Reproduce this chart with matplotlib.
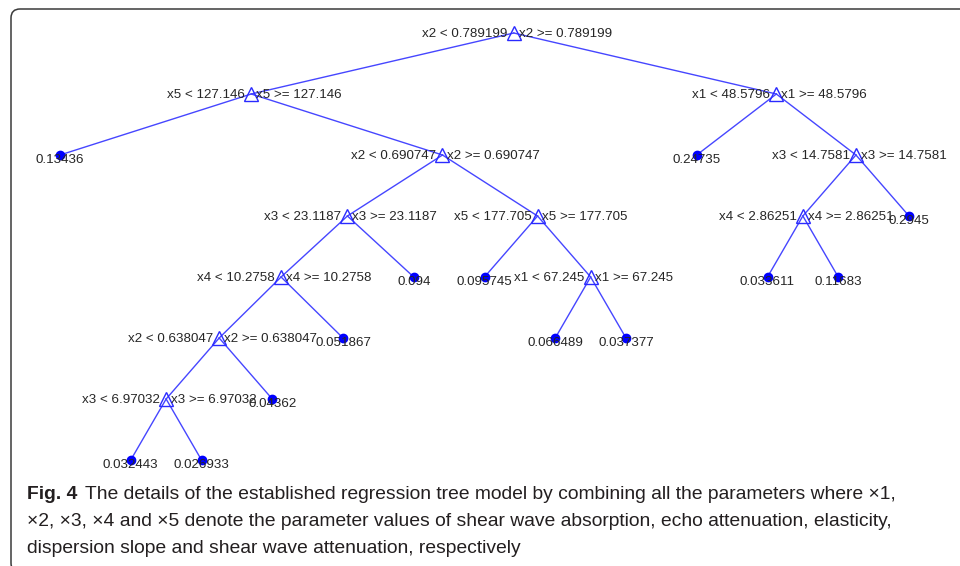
import matplotlib
matplotlib.use('Agg')
import matplotlib.pyplot as plt
from matplotlib.patches import FancyBboxPatch

# arbol de regresion (nodos en preorden), padre = -1 para la raiz
parent = [-1, 0, 1, 1, 3, 4, 5, 6, 7, 7, 6, 5, 4, 3, 13, 13, 15, 15,
          0, 18, 18, 20, 21, 21, 20]
split_var = ['x2', 'x5', None, 'x2', 'x3', 'x4', 'x2', 'x3', None, None,
             None, None, None, 'x5', None, 'x1', None, None,
             'x1', None, 'x3', 'x4', None, None, None]
threshold = [0.789199, 127.146, None, 0.690747, 23.1187, 10.2758, 0.638047,
             6.97032, None, None, None, None, None, 177.705, None, 67.245,
             None, None, 48.5796, None, 14.7581, 2.86251, None, None, None]
leaf_value = [None, None, 0.13436, None, None, None, None, None, 0.032443,
              0.026933, 0.04362, 0.051867, 0.094, None, 0.095745, None,
              0.066489, 0.037377, None, 0.24735, None, None, 0.033611,
              0.11683, 0.2945]

caption_bold = 'Fig. 4'
caption_lines = [
    'The details of the established regression tree model by combining all the parameters where \u00d71,',
    '\u00d72, \u00d73, \u00d74 and \u00d75 denote the parameter values of shear wave absorption, echo attenuation, elasticity,',
    'dispersion slope and shear wave attenuation, respectively',
]

# layout tipo treeplot: hojas equiespaciadas, nodos internos al centro de sus hijos
n = len(parent)
children = [[] for _ in range(n)]
for i, p in enumerate(parent):
    if p >= 0:
        children[p].append(i)

xpos = [0.0] * n
depth = [0] * n
counter = [0]


def place(node, d):
    depth[node] = d
    if not children[node]:
        xpos[node] = counter[0]
        counter[0] += 1
        return
    for c in children[node]:
        place(c, d + 1)
    xpos[node] = sum(xpos[c] for c in children[node]) / len(children[node])


place(0, 0)

W, H = 960, 566
fig = plt.figure(figsize=(W / 100, H / 100), dpi=100)

# marco redondeado
frame = FancyBboxPatch((11, -6), 980, 557 + 6, boxstyle='round,pad=0,rounding_size=9',
                       transform=None, fill=False, edgecolor='#3a3a3a', lw=1.1)
fig.add_artist(frame)

ax = fig.add_axes([60 / W, (H - 460) / H, (909 - 60) / W, (460 - 33) / H])
ax.set_xlim(0, counter[0] - 1)
ax.set_ylim(max(depth), 0)
ax.axis('off')

line_col = '#4646ff'
tree_font = dict(family='Liberation Sans', fontsize=9.6, color='#262626')

for i in range(n):
    p = parent[i]
    if p >= 0:
        ax.plot([xpos[p], xpos[i]], [depth[p], depth[i]], color=line_col, lw=1.0,
                zorder=1, clip_on=False)

for i in range(n):
    if children[i]:
        ax.plot(xpos[i], depth[i], marker='^', ms=10.5, mfc='none', mec='#2a2aff',
                mew=1.0, zorder=3, clip_on=False)
        ax.annotate(f'{split_var[i]} < {threshold[i]:g}', (xpos[i], depth[i]),
                    xytext=(-4.5, -0.8), textcoords='offset points', ha='right',
                    va='center', **tree_font)
        ax.annotate(f'{split_var[i]} >= {threshold[i]:g}', (xpos[i], depth[i]),
                    xytext=(3.5, -0.8), textcoords='offset points', ha='left',
                    va='center', **tree_font)
    else:
        ax.plot(xpos[i], depth[i], marker='o', ms=6, color='#0000ff', zorder=3,
                clip_on=False)
        ax.annotate(f'{leaf_value[i]:g}', (xpos[i], depth[i]), xytext=(0, 0.5),
                    textcoords='offset points', ha='center', va='top', **tree_font)

# pie de figura
cap_font = ['Liberation Sans Narrow', 'Liberation Sans', 'DejaVu Sans']
cap_size = 13.9
x0 = 27 / W
baselines = [499, 526, 553]
t_bold = fig.text(x0, (H - baselines[0]) / H, caption_bold, family=cap_font,
                  fontsize=cap_size, fontweight='bold', va='baseline', color='#231f20')
renderer = fig.canvas.get_renderer()
bb = t_bold.get_window_extent(renderer)
fig.text(bb.x1 / W + 8 / W, (H - baselines[0]) / H, caption_lines[0], family=cap_font,
         fontsize=cap_size, va='baseline', color='#231f20')
for k in (1, 2):
    fig.text(x0, (H - baselines[k]) / H, caption_lines[k], family=cap_font,
             fontsize=cap_size, va='baseline', color='#231f20')

fig.savefig('out.png', dpi=100)
